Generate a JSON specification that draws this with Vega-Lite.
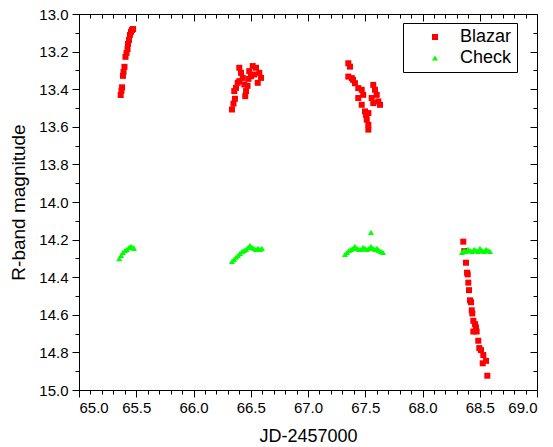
{
  "$schema": "https://vega.github.io/schema/vega-lite/v6.json",
  "width": 458,
  "height": 376,
  "autosize": {"type": "none"},
  "padding": {"left": 79, "top": 14, "right": 16, "bottom": 57},
  "background": "white",
  "config": {
    "view": {"stroke": "black", "strokeWidth": 1},
    "font": "Liberation Sans",
    "axis": {
      "labelFont": "Liberation Sans",
      "labelFontSize": 15,
      "labelColor": "black",
      "titleFont": "Liberation Sans",
      "titleFontSize": 18,
      "titleFontWeight": "normal",
      "titleColor": "black",
      "tickColor": "black",
      "domainColor": "black",
      "grid": false
    },
    "legend": {
      "labelFont": "Liberation Sans",
      "labelFontSize": 18,
      "labelColor": "black"
    }
  },
  "data": {
    "values": [
      {"x": 65.364, "y": 13.431, "s": "Blazar"},
      {"x": 65.371, "y": 13.408, "s": "Blazar"},
      {"x": 65.376, "y": 13.390, "s": "Blazar"},
      {"x": 65.384, "y": 13.329, "s": "Blazar"},
      {"x": 65.389, "y": 13.308, "s": "Blazar"},
      {"x": 65.397, "y": 13.281, "s": "Blazar"},
      {"x": 65.406, "y": 13.228, "s": "Blazar"},
      {"x": 65.415, "y": 13.207, "s": "Blazar"},
      {"x": 65.424, "y": 13.186, "s": "Blazar"},
      {"x": 65.428, "y": 13.159, "s": "Blazar"},
      {"x": 65.437, "y": 13.138, "s": "Blazar"},
      {"x": 65.445, "y": 13.111, "s": "Blazar"},
      {"x": 65.454, "y": 13.095, "s": "Blazar"},
      {"x": 65.463, "y": 13.085, "s": "Blazar"},
      {"x": 65.472, "y": 13.080, "s": "Blazar"},
      {"x": 66.336, "y": 13.508, "s": "Blazar"},
      {"x": 66.349, "y": 13.477, "s": "Blazar"},
      {"x": 66.362, "y": 13.451, "s": "Blazar"},
      {"x": 66.356, "y": 13.410, "s": "Blazar"},
      {"x": 66.371, "y": 13.393, "s": "Blazar"},
      {"x": 66.386, "y": 13.366, "s": "Blazar"},
      {"x": 66.400, "y": 13.357, "s": "Blazar"},
      {"x": 66.400, "y": 13.286, "s": "Blazar"},
      {"x": 66.415, "y": 13.313, "s": "Blazar"},
      {"x": 66.430, "y": 13.340, "s": "Blazar"},
      {"x": 66.444, "y": 13.375, "s": "Blazar"},
      {"x": 66.459, "y": 13.410, "s": "Blazar"},
      {"x": 66.452, "y": 13.437, "s": "Blazar"},
      {"x": 66.472, "y": 13.382, "s": "Blazar"},
      {"x": 66.480, "y": 13.345, "s": "Blazar"},
      {"x": 66.487, "y": 13.304, "s": "Blazar"},
      {"x": 66.502, "y": 13.331, "s": "Blazar"},
      {"x": 66.517, "y": 13.277, "s": "Blazar"},
      {"x": 66.531, "y": 13.322, "s": "Blazar"},
      {"x": 66.546, "y": 13.286, "s": "Blazar"},
      {"x": 66.561, "y": 13.366, "s": "Blazar"},
      {"x": 66.575, "y": 13.313, "s": "Blazar"},
      {"x": 66.590, "y": 13.340, "s": "Blazar"},
      {"x": 67.352, "y": 13.262, "s": "Blazar"},
      {"x": 67.367, "y": 13.280, "s": "Blazar"},
      {"x": 67.352, "y": 13.333, "s": "Blazar"},
      {"x": 67.382, "y": 13.341, "s": "Blazar"},
      {"x": 67.393, "y": 13.350, "s": "Blazar"},
      {"x": 67.410, "y": 13.368, "s": "Blazar"},
      {"x": 67.439, "y": 13.394, "s": "Blazar"},
      {"x": 67.469, "y": 13.403, "s": "Blazar"},
      {"x": 67.439, "y": 13.447, "s": "Blazar"},
      {"x": 67.482, "y": 13.430, "s": "Blazar"},
      {"x": 67.469, "y": 13.483, "s": "Blazar"},
      {"x": 67.498, "y": 13.518, "s": "Blazar"},
      {"x": 67.507, "y": 13.536, "s": "Blazar"},
      {"x": 67.527, "y": 13.527, "s": "Blazar"},
      {"x": 67.513, "y": 13.562, "s": "Blazar"},
      {"x": 67.527, "y": 13.589, "s": "Blazar"},
      {"x": 67.527, "y": 13.615, "s": "Blazar"},
      {"x": 67.570, "y": 13.377, "s": "Blazar"},
      {"x": 67.585, "y": 13.403, "s": "Blazar"},
      {"x": 67.600, "y": 13.430, "s": "Blazar"},
      {"x": 67.556, "y": 13.447, "s": "Blazar"},
      {"x": 67.614, "y": 13.465, "s": "Blazar"},
      {"x": 67.570, "y": 13.474, "s": "Blazar"},
      {"x": 67.629, "y": 13.483, "s": "Blazar"},
      {"x": 68.356, "y": 14.211, "s": "Blazar"},
      {"x": 68.365, "y": 14.261, "s": "Blazar"},
      {"x": 68.380, "y": 14.323, "s": "Blazar"},
      {"x": 68.389, "y": 14.376, "s": "Blazar"},
      {"x": 68.395, "y": 14.385, "s": "Blazar"},
      {"x": 68.400, "y": 14.429, "s": "Blazar"},
      {"x": 68.406, "y": 14.469, "s": "Blazar"},
      {"x": 68.415, "y": 14.523, "s": "Blazar"},
      {"x": 68.424, "y": 14.533, "s": "Blazar"},
      {"x": 68.430, "y": 14.576, "s": "Blazar"},
      {"x": 68.435, "y": 14.593, "s": "Blazar"},
      {"x": 68.444, "y": 14.632, "s": "Blazar"},
      {"x": 68.459, "y": 14.650, "s": "Blazar"},
      {"x": 68.467, "y": 14.667, "s": "Blazar"},
      {"x": 68.444, "y": 14.689, "s": "Blazar"},
      {"x": 68.473, "y": 14.689, "s": "Blazar"},
      {"x": 68.487, "y": 14.738, "s": "Blazar"},
      {"x": 68.496, "y": 14.777, "s": "Blazar"},
      {"x": 68.511, "y": 14.788, "s": "Blazar"},
      {"x": 68.531, "y": 14.814, "s": "Blazar"},
      {"x": 68.526, "y": 14.858, "s": "Blazar"},
      {"x": 68.555, "y": 14.845, "s": "Blazar"},
      {"x": 68.566, "y": 14.924, "s": "Blazar"},
      {"x": 65.352, "y": 14.301, "s": "Check"},
      {"x": 65.367, "y": 14.284, "s": "Check"},
      {"x": 65.384, "y": 14.268, "s": "Check"},
      {"x": 65.402, "y": 14.257, "s": "Check"},
      {"x": 65.419, "y": 14.252, "s": "Check"},
      {"x": 65.437, "y": 14.241, "s": "Check"},
      {"x": 65.454, "y": 14.236, "s": "Check"},
      {"x": 65.472, "y": 14.241, "s": "Check"},
      {"x": 65.480, "y": 14.247, "s": "Check"},
      {"x": 66.336, "y": 14.316, "s": "Check"},
      {"x": 66.354, "y": 14.305, "s": "Check"},
      {"x": 66.371, "y": 14.294, "s": "Check"},
      {"x": 66.389, "y": 14.284, "s": "Check"},
      {"x": 66.406, "y": 14.273, "s": "Check"},
      {"x": 66.424, "y": 14.263, "s": "Check"},
      {"x": 66.441, "y": 14.257, "s": "Check"},
      {"x": 66.459, "y": 14.252, "s": "Check"},
      {"x": 66.476, "y": 14.241, "s": "Check"},
      {"x": 66.493, "y": 14.231, "s": "Check"},
      {"x": 66.511, "y": 14.241, "s": "Check"},
      {"x": 66.528, "y": 14.247, "s": "Check"},
      {"x": 66.546, "y": 14.252, "s": "Check"},
      {"x": 66.563, "y": 14.247, "s": "Check"},
      {"x": 66.581, "y": 14.252, "s": "Check"},
      {"x": 66.598, "y": 14.247, "s": "Check"},
      {"x": 67.323, "y": 14.279, "s": "Check"},
      {"x": 67.341, "y": 14.268, "s": "Check"},
      {"x": 67.358, "y": 14.257, "s": "Check"},
      {"x": 67.376, "y": 14.252, "s": "Check"},
      {"x": 67.393, "y": 14.247, "s": "Check"},
      {"x": 67.410, "y": 14.236, "s": "Check"},
      {"x": 67.428, "y": 14.247, "s": "Check"},
      {"x": 67.445, "y": 14.252, "s": "Check"},
      {"x": 67.463, "y": 14.252, "s": "Check"},
      {"x": 67.480, "y": 14.241, "s": "Check"},
      {"x": 67.498, "y": 14.247, "s": "Check"},
      {"x": 67.515, "y": 14.252, "s": "Check"},
      {"x": 67.533, "y": 14.247, "s": "Check"},
      {"x": 67.550, "y": 14.236, "s": "Check"},
      {"x": 67.550, "y": 14.162, "s": "Check"},
      {"x": 67.568, "y": 14.247, "s": "Check"},
      {"x": 67.585, "y": 14.252, "s": "Check"},
      {"x": 67.603, "y": 14.247, "s": "Check"},
      {"x": 67.620, "y": 14.257, "s": "Check"},
      {"x": 67.638, "y": 14.263, "s": "Check"},
      {"x": 67.655, "y": 14.268, "s": "Check"},
      {"x": 68.345, "y": 14.268, "s": "Check"},
      {"x": 68.362, "y": 14.257, "s": "Check"},
      {"x": 68.380, "y": 14.263, "s": "Check"},
      {"x": 68.397, "y": 14.252, "s": "Check"},
      {"x": 68.415, "y": 14.257, "s": "Check"},
      {"x": 68.432, "y": 14.263, "s": "Check"},
      {"x": 68.450, "y": 14.252, "s": "Check"},
      {"x": 68.467, "y": 14.257, "s": "Check"},
      {"x": 68.485, "y": 14.263, "s": "Check"},
      {"x": 68.502, "y": 14.247, "s": "Check"},
      {"x": 68.520, "y": 14.257, "s": "Check"},
      {"x": 68.537, "y": 14.263, "s": "Check"},
      {"x": 68.555, "y": 14.252, "s": "Check"},
      {"x": 68.572, "y": 14.257, "s": "Check"},
      {"x": 68.590, "y": 14.263, "s": "Check"}
    ]
  },
  "resolve": {"axis": {"x": "independent", "y": "independent"}},
  "layer": [
    {
      "mark": {"type": "point", "opacity": 0},
      "encoding": {
        "x": {"field": "x", "type": "quantitative", "scale": {"domain": [65, 69], "nice": false, "zero": false},
          "axis": {"orient": "bottom", "values": [65.1,65.2,65.3,65.4,65.6,65.7,65.8,65.9,66.1,66.2,66.3,66.4,66.6,66.7,66.8,66.9,67.1,67.2,67.3,67.4,67.6,67.7,67.8,67.9,68.1,68.2,68.3,68.4,68.6,68.7,68.8,68.9], "tickSize": 4, "labels": false, "domain": false, "title": null}},
        "y": {"field": "y", "type": "quantitative", "scale": {"domain": [13, 15], "nice": false, "zero": false, "reverse": true},
          "axis": {"orient": "left", "values": [13.1,13.3,13.5,13.7,13.9,14.1,14.3,14.5,14.7,14.9], "tickSize": 4, "labels": false, "domain": false, "title": null}}
      }
    },
    {
      "mark": {"type": "point", "opacity": 0},
      "encoding": {
        "x": {"field": "x", "type": "quantitative",
          "axis": {"orient": "top", "values": [65,65.5,66,66.5,67,67.5,68,68.5,69], "tickSize": -7, "labels": false, "domain": false, "title": null}},
        "y": {"field": "y", "type": "quantitative",
          "axis": {"orient": "right", "values": [13,13.2,13.4,13.6,13.8,14,14.2,14.4,14.6,14.8,15], "tickSize": -7, "labels": false, "domain": false, "title": null}}
      }
    },
    {
      "mark": {"type": "point", "opacity": 0},
      "encoding": {
        "x": {"field": "x", "type": "quantitative",
          "axis": {"orient": "top", "values": [65.1,65.2,65.3,65.4,65.6,65.7,65.8,65.9,66.1,66.2,66.3,66.4,66.6,66.7,66.8,66.9,67.1,67.2,67.3,67.4,67.6,67.7,67.8,67.9,68.1,68.2,68.3,68.4,68.6,68.7,68.8,68.9], "tickSize": -4, "labels": false, "domain": false, "title": null}},
        "y": {"field": "y", "type": "quantitative",
          "axis": {"orient": "right", "values": [13.1,13.3,13.5,13.7,13.9,14.1,14.3,14.5,14.7,14.9], "tickSize": -4, "labels": false, "domain": false, "title": null}}
      }
    },
    {
      "mark": {"type": "point", "filled": true, "opacity": 1, "size": 36, "strokeWidth": 0},
      "encoding": {
        "x": {"field": "x", "type": "quantitative",
          "axis": {"orient": "bottom", "values": [65,65.5,66,66.5,67,67.5,68,68.5,69], "format": ".1f", "tickSize": 7, "labelPadding": 3, "title": "JD-2457000", "titlePadding": 12}},
        "y": {"field": "y", "type": "quantitative",
          "axis": {"orient": "left", "values": [13,13.2,13.4,13.6,13.8,14,14.2,14.4,14.6,14.8,15], "format": ".1f", "tickSize": 7, "labelPadding": 4, "title": "R-band magnitude", "titlePadding": 10, "titleFontSize": 19}},
        "color": {"field": "s", "type": "nominal", "scale": {"domain": ["Blazar", "Check"], "range": ["#FF0000", "#00FF00"]},
          "legend": {"title": null, "orient": "none", "legendX": 324, "legendY": 9, "padding": 5, "symbolOffset": 18, "labelOffset": 16, "rowPadding": 3, "strokeColor": "black", "fillColor": "white", "symbolSize": 36, "symbolStrokeWidth": 0}},
        "shape": {"field": "s", "type": "nominal", "scale": {"domain": ["Blazar", "Check"], "range": ["square", "triangle-up"]}, "legend": null}
      }
    }
  ]
}
